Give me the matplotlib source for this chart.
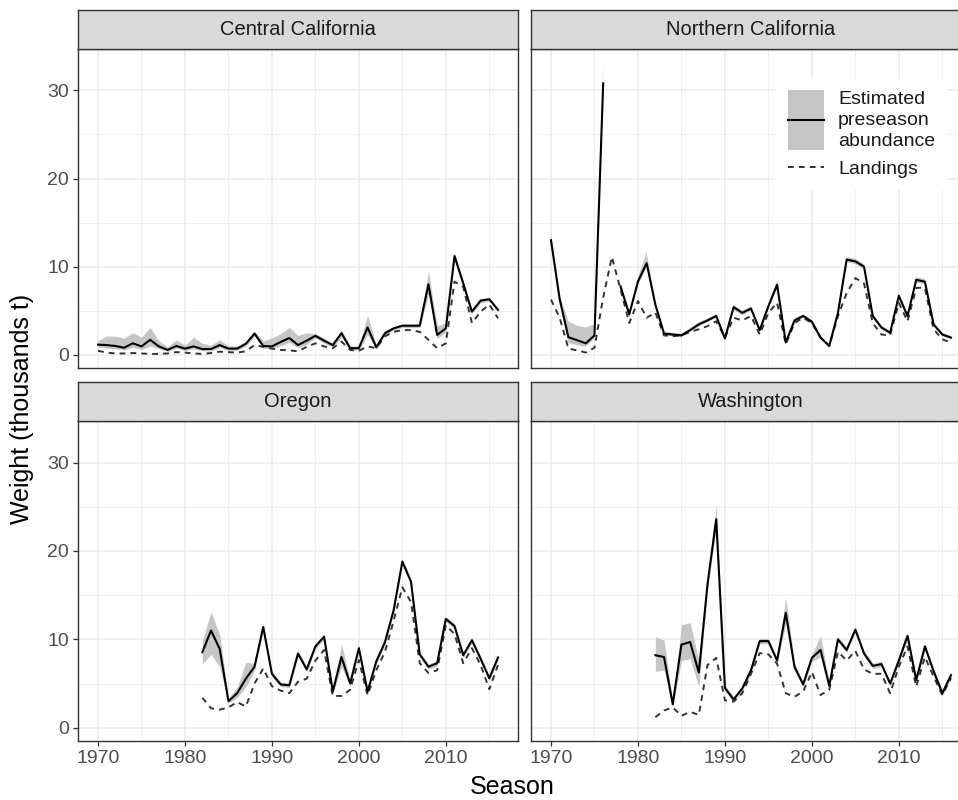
import numpy as np
import matplotlib
matplotlib.use('Agg')
import matplotlib.pyplot as plt
from matplotlib.lines import Line2D
from matplotlib.patches import Rectangle
from matplotlib.legend_handler import HandlerBase

plt.rcParams['font.family'] = ['Liberation Sans', 'DejaVu Sans']

nan = np.nan
years_full = list(range(1970, 2017))
years_late = list(range(1982, 2017))

# Central California
cc_est = [1.15, 1.1, 1.0, 0.8, 1.3, 0.95, 1.7, 0.95, 0.55, 1.0, 0.7, 0.95, 0.65, 0.65, 1.1, 0.7,
          0.7, 1.25, 2.4, 1.0, 0.95, 1.45, 1.9, 1.1, 1.6, 2.15, 1.6, 1.1, 2.45, 0.75, 0.75, 3.1,
          0.85, 2.45, 3.0, 3.3, 3.3, 3.3, 8.0, 2.25, 3.0, 11.2, 8.1, 4.9, 6.15, 6.3, 5.1]
cc_hi = [1.6, 2.15, 2.1, 1.9, 2.5, 2.0, 3.1, 1.6, 0.9, 1.7, 1.1, 2.0, 1.3, 1.1, 1.7, 1.0,
         1.0, 1.5, 2.7, 1.6, 1.9, 2.4, 3.1, 2.2, 2.5, 2.4, 1.9, 1.3, 2.8, 1.0, 1.0, 4.5,
         1.1, 2.7, 3.2, 3.5, 3.5, 3.5, 9.5, 3.3, 3.6, 11.6, 8.4, 5.1, 6.4, 6.5, 5.3]
cc_lo = [0.9, 0.75, 0.7, 0.55, 0.85, 0.6, 1.0, 0.7, 0.4, 0.75, 0.5, 0.65, 0.45, 0.45, 0.8, 0.5,
         0.5, 1.0, 2.1, 0.75, 0.65, 1.0, 1.4, 0.8, 1.2, 1.9, 1.3, 0.9, 2.0, 0.55, 0.55, 2.3,
         0.65, 2.2, 2.8, 3.1, 3.1, 3.1, 6.9, 1.8, 2.6, 10.8, 7.8, 4.7, 5.9, 6.1, 4.9]
cc_land = [0.45, 0.25, 0.15, 0.15, 0.2, 0.15, 0.1, 0.1, 0.15, 0.3, 0.25, 0.15, 0.1, 0.2, 0.35, 0.3,
           0.25, 0.4, 1.1, 0.9, 0.7, 0.55, 0.5, 0.4, 0.9, 1.3, 0.95, 0.75, 1.5, 0.55, 0.45, 0.95,
           0.75, 2.1, 2.6, 2.8, 2.8, 2.6, 1.7, 0.75, 1.3, 8.3, 7.7, 3.6, 4.9, 5.7, 4.15]

# Northern California
nc_est = [13.0, 6.3, 2.0, 1.65, 1.3, 2.2, 30.8, nan, 7.75, 4.6, 8.3, 10.4, 5.7, 2.4, 2.3, 2.2,
          2.8, 3.45, 3.9, 4.4, 1.85, 5.4, 4.76, 5.25, 2.8, 5.5, 7.95, 1.4, 3.9, 4.4, 3.75, 1.95,
          1.0, 4.76, 10.8, 10.6, 10.0, 4.4, 3.1, 2.5, 6.7, 4.4, 8.5, 8.3, 3.45, 2.3, 1.95]
nc_hi = [13.8, 6.8, 3.8, 3.3, 3.1, 3.45, 32.7, nan, 8.1, 4.9, 8.8, 11.6, 6.0, 2.6, 2.5, 2.4,
         3.0, 3.7, 4.1, 4.6, 2.05, 5.7, 5.0, 5.5, 3.0, 5.8, 8.4, 1.6, 4.1, 4.6, 3.95, 2.15,
         1.15, 5.0, 11.1, 10.9, 10.3, 4.6, 3.3, 2.7, 7.0, 4.6, 8.8, 8.6, 3.65, 2.5, 2.15]
nc_lo = [12.3, 5.8, 1.3, 1.1, 0.9, 1.8, 29.0, nan, 7.4, 4.3, 7.9, 9.9, 5.4, 2.2, 2.1, 2.0,
         2.6, 3.2, 3.7, 4.2, 1.65, 5.1, 4.5, 5.0, 2.6, 5.2, 7.5, 1.2, 3.7, 4.2, 3.55, 1.75,
         0.85, 4.5, 10.5, 10.3, 9.7, 4.2, 2.9, 2.3, 6.4, 4.2, 8.2, 8.0, 3.25, 2.1, 1.75]
nc_land = [6.26, 4.2, 0.7, 0.5, 0.26, 0.8, 6.5, 11.1, 7.4, 3.6, 6.1, 4.2, 4.8, 2.2, 2.1, 2.2,
           2.6, 2.9, 3.25, 3.8, 1.95, 4.2, 3.9, 4.4, 2.3, 4.76, 5.9, 1.2, 3.6, 4.2, 3.6, 1.95,
           1.0, 4.4, 7.0, 8.7, 8.1, 3.6, 2.3, 2.2, 5.9, 3.8, 7.6, 7.6, 2.9, 1.75, 1.4]

# Oregon
or_est = [8.55, 11.0, 8.9, 3.0, 3.9, 5.55, 6.9, 11.4, 6.1, 4.9, 4.8, 8.4, 6.6, 9.2, 10.3, 4.1,
          8.0, 5.0, 9.0, 4.1, 7.5, 9.7, 13.3, 18.8, 16.5, 8.3, 6.9, 7.3, 12.3, 11.5, 8.2, 9.9,
          7.8, 5.6, 7.95]
or_hi = [9.9, 13.1, 10.5, 3.3, 4.6, 7.4, 7.3, 11.8, 6.4, 5.15, 5.05, 8.7, 6.9, 9.5, 10.6, 4.4,
         9.5, 5.3, 9.3, 4.4, 7.8, 10.0, 13.6, 19.1, 16.8, 8.6, 7.2, 7.6, 12.6, 11.8, 8.5, 10.2,
         8.1, 5.9, 8.25]
or_lo = [7.2, 8.3, 6.9, 2.8, 3.4, 4.6, 6.5, 11.0, 5.8, 4.65, 4.55, 8.1, 6.3, 8.9, 10.0, 3.8,
         6.9, 4.7, 8.7, 3.8, 7.2, 9.4, 13.0, 18.5, 16.2, 8.0, 6.6, 7.0, 12.0, 11.2, 7.9, 9.6,
         7.5, 5.3, 7.65]
or_land = [3.4, 2.2, 2.05, 2.3, 2.9, 2.4, 5.0, 6.7, 4.7, 4.2, 3.9, 5.2, 5.55, 7.6, 8.8, 3.6,
           3.6, 4.3, 7.65, 3.7, 6.5, 8.6, 12.1, 15.9, 14.2, 7.3, 6.2, 6.5, 11.6, 10.6, 7.3, 9.0,
           7.1, 4.35, 7.1]

# Washington
wa_est = [8.2, 8.0, 2.65, 9.4, 9.7, 6.25, 16.25, 23.6, 4.5, 3.2, 4.45, 6.5, 9.8, 9.8, 7.6, 13.0,
          6.9, 4.9, 7.9, 8.8, 4.75, 10.0, 8.8, 11.1, 8.4, 7.0, 7.2, 5.0, 7.6, 10.4, 5.4, 9.2,
          6.4, 3.9, 5.95]
wa_hi = [10.3, 9.9, 3.0, 11.65, 11.9, 7.6, 16.8, 25.1, 4.8, 3.5, 4.75, 6.8, 10.1, 10.1, 7.9, 14.75,
         7.3, 5.2, 8.3, 10.4, 5.05, 10.3, 9.1, 11.4, 8.7, 7.3, 7.5, 5.3, 7.9, 10.7, 5.7, 9.5,
         6.7, 4.2, 6.25]
wa_lo = [6.4, 6.5, 2.4, 7.6, 7.8, 4.6, 15.7, 22.5, 4.2, 2.9, 4.15, 6.2, 9.5, 9.5, 7.3, 11.8,
         6.5, 4.6, 7.5, 8.0, 4.45, 9.7, 8.5, 10.8, 8.1, 6.7, 6.9, 4.7, 7.3, 10.1, 5.1, 8.9,
         6.1, 3.6, 5.65]
wa_land = [1.2, 1.95, 2.3, 1.35, 1.8, 1.45, 7.1, 7.9, 3.1, 2.95, 3.9, 6.1, 8.45, 8.3, 7.25, 3.9,
           3.5, 4.1, 6.3, 3.7, 4.3, 8.6, 7.6, 8.7, 6.6, 6.1, 6.1, 3.9, 6.9, 9.2, 4.65, 8.0,
           5.8, 3.7, 5.6]

panels = [
    ("Central California", years_full, cc_est, cc_lo, cc_hi, cc_land),
    ("Northern California", years_full, nc_est, nc_lo, nc_hi, nc_land),
    ("Oregon", years_late, or_est, or_lo, or_hi, or_land),
    ("Washington", years_late, wa_est, wa_lo, wa_hi, wa_land),
]

W, H = 958, 800
band_col = '#c6c6c6'
grid_col = '#ebebeb'
frame_col = '#333333'
dash = (0, (3, 2.6))


def px_axes(x0, y0, x1, y1):
    return [x0 / W, 1 - y1 / H, (x1 - x0) / W, (y1 - y0) / H]


# panel boxes in pixels: (left, top, right, bottom), strips above
boxes = [(78, 49, 518, 368), (531, 49, 971, 368), (78, 421, 518, 741), (531, 421, 971, 741)]

fig = plt.figure(figsize=(W / 100, H / 100), dpi=100)

axes = []
for i, (name, yrs, est, lo, hi, land) in enumerate(panels):
    l, t, r, b = boxes[i]
    ax = fig.add_axes(px_axes(l, t, r, b))
    ax.fill_between(yrs, lo, hi, color=band_col, lw=0, zorder=2)
    ax.plot(yrs, est, color='black', lw=1.5, zorder=4)
    ax.plot(yrs, land, color='#333333', lw=1.4, linestyle=dash, zorder=3)
    ax.set_xlim(1967.7, 2018.3)
    ax.set_ylim(-1.5, 34.7)
    ax.set_xticks([1970, 1980, 1990, 2000, 2010])
    ax.set_xticks([1975, 1985, 1995, 2005, 2015], minor=True)
    ax.set_yticks([0, 10, 20, 30])
    ax.set_yticks([5, 15, 25], minor=True)
    ax.grid(which='major', color=grid_col, lw=1.1, zorder=0)
    ax.grid(which='minor', color=grid_col, lw=0.55, zorder=0)
    ax.set_axisbelow(True)
    for s in ax.spines.values():
        s.set_color(frame_col)
        s.set_linewidth(1.0)
    ax.tick_params(which='major', length=3.5, width=0.9, color=frame_col,
                   labelcolor='#4d4d4d', labelsize=14, pad=3)
    ax.tick_params(which='minor', length=0)
    if i % 2 == 1:
        ax.tick_params(labelleft=False, left=False)
    if i < 2:
        ax.tick_params(labelbottom=False, bottom=False)

    # facet strip
    sax = fig.add_axes(px_axes(l, t - 39, r, t))
    sax.set_facecolor('#d9d9d9')
    sax.set_xticks([])
    sax.set_yticks([])
    for s in sax.spines.values():
        s.set_color(frame_col)
        s.set_linewidth(1.0)
    sax.text(0.5, 0.5, name, ha='center', va='center', fontsize=14.5, color='#1a1a1a',
             transform=sax.transAxes)
    axes.append(ax)


class BandHandler(HandlerBase):
    def create_artists(self, legend, orig_handle, xdescent, ydescent, width, height, fontsize, trans):
        hh = fontsize * 3.05
        cy = -ydescent + height / 2
        rect = Rectangle((-xdescent, cy - hh / 2), width, hh, facecolor=band_col,
                         edgecolor='none', transform=trans)
        line = Line2D([-xdescent, -xdescent + width], [cy, cy], color='black', lw=1.5,
                      transform=trans)
        return [rect, line]


band_handle = Rectangle((0, 0), 1, 1)
land_handle = Line2D([], [], color='#333333', lw=1.4, linestyle=dash)
leg = axes[1].legend([band_handle, land_handle],
                     ['Estimated\npreseason\nabundance', 'Landings'],
                     handler_map={Rectangle: BandHandler()},
                     loc='upper right', bbox_to_anchor=(0.945, 0.906),
                     fontsize=14, frameon=True, fancybox=False, framealpha=1,
                     edgecolor='white', handlelength=1.85, handletextpad=0.72,
                     labelspacing=0.55, borderpad=0.6, borderaxespad=0)
for txt in leg.get_texts():
    txt.set_linespacing(1.32)
    txt.set_color('#1a1a1a')
leg.get_frame().set_linewidth(0)
leg.set_zorder(10)

fig.text(22 / W, 1 - 409 / H, 'Weight (thousands t)', rotation=90, ha='center', va='center',
         fontsize=18)
fig.text(512 / W, 1 - 787 / H, 'Season', ha='center', va='center', fontsize=18)

fig.savefig('out.png', dpi=100)
